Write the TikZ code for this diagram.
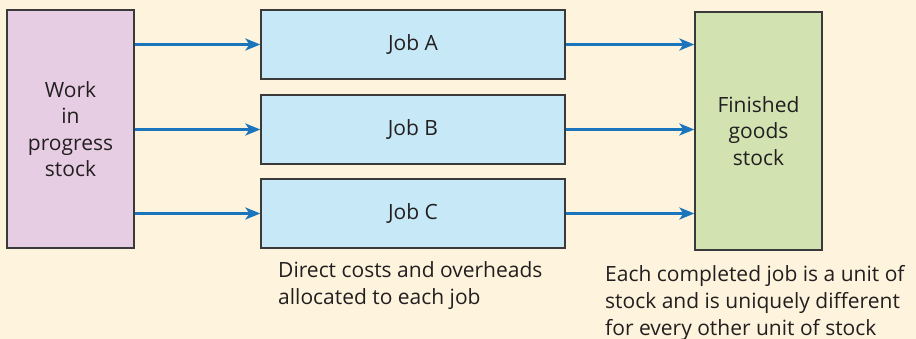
\documentclass[tikz,border=0pt]{standalone}
\usepackage{fontspec}
\setmainfont{Open Sans}
\usetikzlibrary{arrows.meta}
\definecolor{bg}{HTML}{FEF3DC}
\definecolor{wipc}{HTML}{E6CDE3}
\definecolor{jobc}{HTML}{C7E8F7}
\definecolor{fgc}{HTML}{D2E3B1}
\definecolor{edge}{HTML}{3A3A3A}
\definecolor{arr}{HTML}{1B75BC}
\definecolor{txt}{HTML}{231F20}
\begin{document}
\begin{tikzpicture}[x=1pt,y=-1pt,
  box/.style={draw=edge,line width=1.3pt,inner sep=0pt,align=center,text=txt,
    font=\fontsize{21}{26.5}\selectfont},
  flow/.style={draw=arr,line width=2.5pt,-{Stealth[length=15pt,width=12pt,inset=4pt]}},
  note/.style={align=left,text=txt,inner sep=0pt,anchor=north west,font=\fontsize{21}{27}\selectfont}]
\useasboundingbox[fill=bg] (0,0) rectangle (916,339);
\node[box,fill=wipc,minimum width=127pt,minimum height=238pt] (wip) at (70.5,129) {Work\\in\\progress\\stock};
\node[box,fill=jobc,minimum width=304pt,minimum height=69pt] (ja) at (413,44.5) {Job A};
\node[box,fill=jobc,minimum width=304pt,minimum height=69pt] (jb) at (413,129.5) {Job B};
\node[box,fill=jobc,minimum width=304pt,minimum height=69pt] (jc) at (413,213.5) {Job C};
\node[box,fill=fgc,minimum width=127pt,minimum height=238pt] (fg) at (758.5,131) {Finished\\goods\\stock};
\foreach \j in {ja,jb,jc}{
  \draw[flow] (wip.east |- \j.west) -- (\j.west);
  \draw[flow] (\j.east) -- (fg.west |- \j.east);
}
\node[note] (n1) at (278,261.5) {Direct costs and overheads\\allocated to each job};
\node[note] (n2) at (605,265.5) {Each completed job is a unit of\\stock and is uniquely different\\for every other unit of stock};
\end{tikzpicture}
\end{document}
